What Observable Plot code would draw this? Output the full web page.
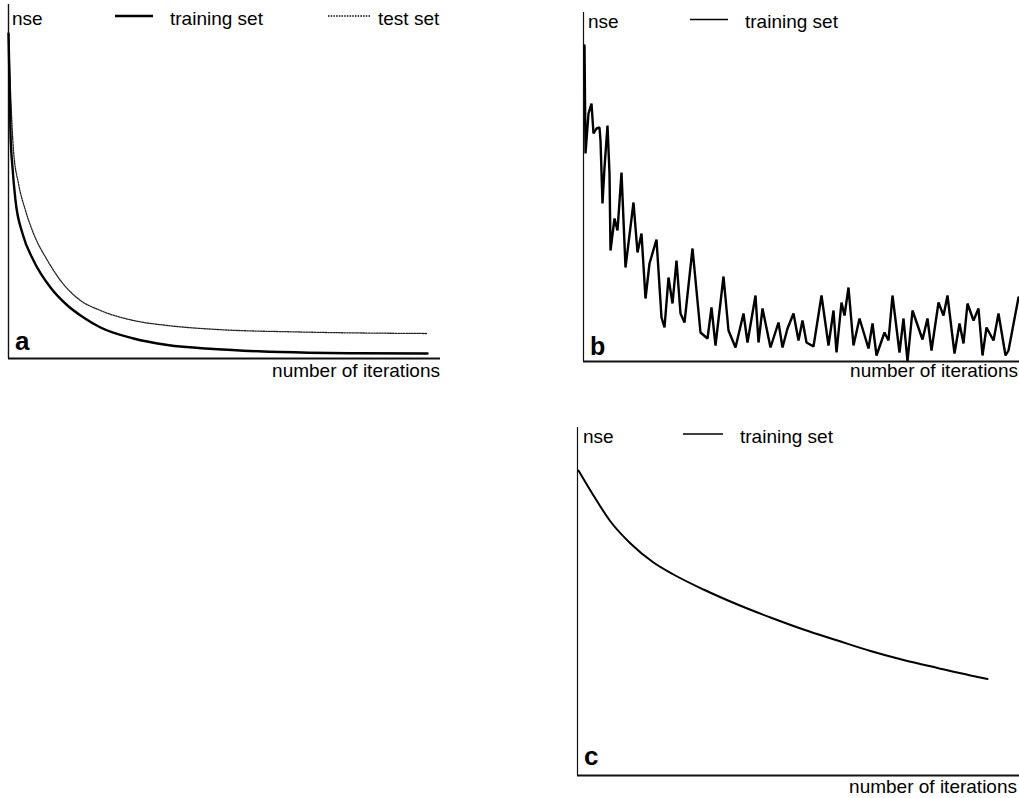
<!DOCTYPE html>
<html>
<head>
<meta charset="utf-8">
<script src="https://cdn.jsdelivr.net/npm/d3@7"></script>
<script src="https://cdn.jsdelivr.net/npm/@observablehq/plot@0.6"></script>
<style>
  html, body { margin: 0; padding: 0; background: #fff; }
  #root { position: relative; width: 1019px; height: 798px; overflow: hidden; font-family: "Liberation Sans", Arial, Helvetica, sans-serif; }
  .panel { position: absolute; }
  #overlay { position: absolute; left: 0; top: 0; pointer-events: none; }
  #overlay text { font-family: "Liberation Sans", Arial, Helvetica, sans-serif; fill: #000; }
</style>
</head>
<body>
<div id="root"></div>
<script>
// ---- Data (arbitrary units) ----
// Panel a: training set
const aTrainIter = [0, 1, 2, 4, 7, 14, 25, 42, 59, 75, 92, 125, 159, 205, 250, 300, 350, 419];
const aTrainNse  = [325, 278, 225, 191, 158, 125, 98, 71, 53, 41, 31, 20, 13.5, 9.5, 7.2, 5.8, 5.2, 5];
// Panel a: test set
const aTestIter = [0, 2, 5, 10, 17, 25, 39, 52, 72, 92, 125, 159, 209, 292, 419];
const aTestNse  = [325, 268, 208, 175, 148, 125, 98, 78, 58, 48, 38, 33, 29, 26.5, 25];

// Panel b: training set (noisy)
const bIter = [1, 2, 5, 8, 10, 13, 16, 17, 19, 21, 24, 26, 27, 31, 34, 38, 42, 50, 54, 58,
  62, 66, 73, 78, 81, 85, 89, 93, 97, 101, 109, 117, 124, 128, 132, 140, 145, 152, 160, 164,
  172, 175, 179, 187, 195, 199, 204, 210, 215, 219, 223, 230, 238, 245, 250, 253, 258, 261, 265, 270,
  276, 285, 289, 293, 301, 305, 309, 316, 320, 324, 329, 339, 344, 348, 355, 360, 364, 371, 376, 380,
  384, 390, 395, 399, 403, 410, 415, 422, 425, 435];
const bNse = [316, 208, 248, 258, 228, 233, 234, 221, 158, 194, 236, 188, 111, 143, 131, 189, 94, 159, 109, 128,
  63, 98, 122, 44, 34, 84, 58, 101, 48, 39, 113, 29, 23, 54, 16, 85, 31, 14, 48, 19,
  66, 19, 53, 14, 39, 14, 33, 48, 21, 41, 19, 15, 66, 16, 51, 9, 59, 46, 74, 16,
  43, 13, 38, 6, 29, 21, 66, 9, 43, 0, 51, 22, 43, 11, 59, 46, 66, 8, 38, 18,
  58, 41, 53, 6, 34, 21, 48, 6, 11, 64];

// Panel c: training set
const cIter = [1, 16, 33, 53, 76, 96, 126, 160, 193, 226, 260, 293, 326, 360, 393, 410];
const cNse  = [305, 280, 254, 232, 213, 201, 186, 171, 158, 146, 135, 124.5, 115.5, 107.5, 100, 96.5];

const toRows = (xs, ys) => xs.map((x, i) => ({iter: x, nse: ys[i]}));

const root = document.getElementById("root");

function panel({left, top, width, height, mt, mr, mb, ml, xmax, ymax, lines, yAxisWidth, xAxisWidth}) {
  const marks = [
    Plot.ruleX([0], {stroke: "#111", strokeWidth: yAxisWidth}),
    Plot.ruleY([0], {stroke: "#111", strokeWidth: xAxisWidth}),
    ...lines
  ];
  const svg = Plot.plot({
    width, height,
    marginTop: mt, marginRight: mr, marginBottom: mb, marginLeft: ml,
    x: {domain: [0, xmax], axis: null},
    y: {domain: [0, ymax], axis: null},
    style: {background: "transparent", overflow: "visible"},
    marks
  });
  const div = document.createElement("div");
  div.className = "panel";
  div.style.left = left + "px";
  div.style.top = top + "px";
  div.appendChild(svg);
  root.appendChild(div);
}

// Panel a
panel({
  left: 0, top: 0, width: 450, height: 362, mt: 4, mr: 10, mb: 4, ml: 8,
  xmax: 432, ymax: 354, yAxisWidth: 1.4, xAxisWidth: 2,
  lines: [
    Plot.line(toRows(aTestIter, aTestNse), {x: "iter", y: "nse", stroke: "#222", strokeWidth: 1.3, strokeDasharray: "1.5 1.2", curve: "monotone-x"}),
    Plot.line(toRows(aTrainIter, aTrainNse), {x: "iter", y: "nse", stroke: "#000", strokeWidth: 2.4, curve: "monotone-x"})
  ]
});

// Panel b
panel({
  left: 575, top: 0, width: 444, height: 365, mt: 12, mr: 0, mb: 4, ml: 8,
  xmax: 436, ymax: 349, yAxisWidth: 1.2, xAxisWidth: 2,
  lines: [
    Plot.line(toRows(bIter, bNse), {x: "iter", y: "nse", stroke: "#000", strokeWidth: 2.4, strokeLinejoin: "miter", curve: "linear"})
  ]
});

// Panel c
panel({
  left: 570, top: 420, width: 449, height: 360, mt: 7, mr: 0, mb: 5, ml: 7,
  xmax: 442, ymax: 348, yAxisWidth: 1.2, xAxisWidth: 2,
  lines: [
    Plot.line(toRows(cIter, cNse), {x: "iter", y: "nse", stroke: "#000", strokeWidth: 2, curve: "monotone-x"})
  ]
});

// Overlay with titles, legends and labels
const labels = [
  {x: 12, y: 25, t: "nse", size: 19},
  {x: 170, y: 25, t: "training set", size: 19},
  {x: 378, y: 25, t: "test set", size: 19},
  {x: 440, y: 377, t: "number of iterations", size: 19, anchor: "end"},
  {x: 15, y: 350, t: "a", size: 26, bold: true},
  {x: 588, y: 28, t: "nse", size: 19},
  {x: 745, y: 28, t: "training set", size: 19},
  {x: 1018, y: 377, t: "number of iterations", size: 19, anchor: "end"},
  {x: 590, y: 355, t: "b", size: 25, bold: true},
  {x: 583, y: 443, t: "nse", size: 19},
  {x: 740, y: 443, t: "training set", size: 19},
  {x: 1017, y: 793, t: "number of iterations", size: 19, anchor: "end"},
  {x: 584, y: 765, t: "c", size: 26, bold: true}
];
const swatches = [
  {x1: 115, x2: 153, y: 16, w: 2.4, dash: null},
  {x1: 328, x2: 370, y: 16, w: 1.3, dash: "1.5 1.2"},
  {x1: 690, x2: 728, y: 19.5, w: 1.6, dash: null},
  {x1: 683, x2: 723, y: 434, w: 1.6, dash: null}
];
const ns = "http://www.w3.org/2000/svg";
const ov = document.createElementNS(ns, "svg");
ov.setAttribute("id", "overlay");
ov.setAttribute("width", 1019);
ov.setAttribute("height", 798);
for (const s of swatches) {
  const l = document.createElementNS(ns, "line");
  l.setAttribute("x1", s.x1); l.setAttribute("x2", s.x2);
  l.setAttribute("y1", s.y); l.setAttribute("y2", s.y);
  l.setAttribute("stroke", "#000");
  l.setAttribute("stroke-width", s.w);
  if (s.dash) l.setAttribute("stroke-dasharray", s.dash);
  ov.appendChild(l);
}
for (const d of labels) {
  const tx = document.createElementNS(ns, "text");
  tx.setAttribute("x", d.x); tx.setAttribute("y", d.y);
  tx.setAttribute("font-size", d.size);
  if (d.bold) tx.setAttribute("font-weight", "bold");
  if (d.anchor) tx.setAttribute("text-anchor", d.anchor);
  tx.textContent = d.t;
  ov.appendChild(tx);
}
root.appendChild(ov);
</script>
</body>
</html>
